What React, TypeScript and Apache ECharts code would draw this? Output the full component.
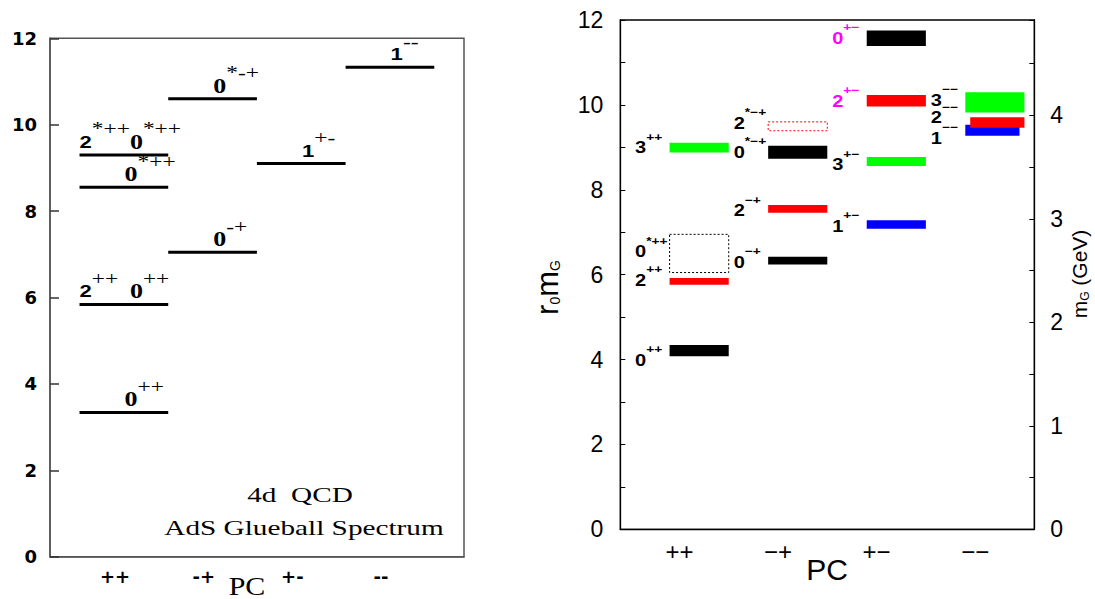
import React, { useEffect, useRef } from 'react';
import * as echarts from 'echarts';

// ---------- Left panel: AdS glueball spectrum (4d QCD) ----------
const leftCategories = ['++', '-+', '+-', '--'];
const leftPC = [1, 1, 1, 1, 2, 2, 3, 4];
const leftMass = [3.34, 5.84, 8.55, 9.3, 7.05, 10.6, 9.1, 11.33];
const leftStates = ['0|++', '2|++  0|++', '0|*++', '2|*++ 0|*++', '0|-+', '0|*-+', '1|+-', '1|--'];
const leftNotes = ['4d  QCD', 'AdS Glueball Spectrum'];
const leftXName = 'PC';

// ---------- Right panel: lattice glueball spectrum ----------
const rightCategories = ['++', '\u2212+', '+\u2212', '\u2212\u2212'];
const rightPC = [1, 1, 1, 1, 2, 2, 2, 2, 3, 3, 3, 3, 4, 4, 4];
const rightStates = [
  '0|++', '2|++', '0|*++', '3|++',
  '0|\u2212+', '2|\u2212+', '0|*\u2212+', '2|*\u2212+',
  '1|+\u2212', '3|+\u2212', '2|+\u2212', '0|+\u2212',
  '1|\u2212\u2212', '2|\u2212\u2212', '3|\u2212\u2212',
];
const rightLow = [4.08, 5.76, 6.05, 8.88, 6.24, 7.46, 8.73, 9.39, 7.08, 8.56, 9.96, 11.39, 9.27, 9.46, 9.82];
const rightHigh = [4.34, 5.92, 6.95, 9.11, 6.42, 7.64, 9.04, 9.6, 7.28, 8.77, 10.23, 11.75, 9.53, 9.71, 10.3];
const rightFrom = [-0.1, -0.1, -0.1, -0.1, -0.1, -0.1, -0.1, -0.1, -0.1, -0.1, -0.1, -0.1, -0.1, -0.05, -0.1];
const rightTo = [0.5, 0.5, 0.5, 0.5, 0.5, 0.5, 0.5, 0.5, 0.5, 0.5, 0.5, 0.5, 0.45, 0.5, 0.5];
const rightColor = ['#000000', '#ff0000', '#000000', '#00ff00', '#000000', '#ff0000', '#000000', '#ff0000',
  '#0000ff', '#00ff00', '#ff0000', '#000000', '#0000ff', '#ff0000', '#00ff00'];
const rightDotted = [false, false, true, false, false, false, false, true, false, false, false, false, false, false, false];
const rightLabelAt = [3.98, 5.86, 6.53, 8.98, 6.29, 7.5, 8.87, 9.56, 7.13, 8.58, 10.07, 11.56, 9.21, 9.69, 10.1];
const rightLabelColor = ['#000', '#000', '#000', '#000', '#000', '#000', '#000', '#000',
  '#000', '#000', '#ff00ff', '#ff00ff', '#000', '#000', '#000'];
const rightGeVMax = 4.92;
const rightYName = ['r', '0', 'm', 'G'];
const rightY2Name = ['m', 'G', ' (GeV)'];
const rightXName = 'PC';

const leftRich = {
  bs: { fontFamily: 'Liberation Sans', fontWeight: 'bold', fontSize: 17, lineHeight: 43, fill: '#000' },
  bz: { fontFamily: 'Liberation Serif', fontWeight: 'bold', fontSize: 20, lineHeight: 43, fill: '#000' },
  sp: { fontFamily: 'Liberation Serif', fontSize: 18, verticalAlign: 'top', fill: '#000' },
  gap: { fontSize: 17, width: 9 },
};

function buildOption() {
  const leftData = leftPC.map((pc, i) => [pc, leftMass[i]]);
  const rightData = rightPC.map((pc, i) => [pc + rightFrom[i], rightLow[i], pc + rightTo[i], rightHigh[i], pc, rightLabelAt[i]]);

  return {
    animation: false,
    backgroundColor: '#fff',
    grid: [
      { left: 50, top: 38.3, width: 414, height: 518.4, show: true, borderColor: '#555', borderWidth: 1.5 },
      { left: 620.3, top: 20, width: 414, height: 509.3, show: true, borderColor: '#000', borderWidth: 1.3 },
    ],
    xAxis: [
      {
        gridIndex: 0, type: 'value', min: 0.267, max: 4.935,
        axisLine: { show: true, lineStyle: { color: '#555', width: 1.5 } },
        axisTick: { show: false }, splitLine: { show: false },
        axisLabel: {
          customValues: [1, 2, 3, 4],
          formatter: (v: number) => leftCategories[Math.round(v) - 1] || '',
          fontFamily: 'DejaVu Sans', fontWeight: 'bold', fontSize: 18, color: '#000', margin: 11,
        },
      },
      {
        gridIndex: 1, type: 'value', min: 0.4, max: 4.6,
        axisLine: { show: true, lineStyle: { color: '#000', width: 1.3 } },
        axisTick: { show: false }, splitLine: { show: false },
        axisLabel: {
          customValues: [1, 2, 3, 4],
          formatter: (v: number) => rightCategories[Math.round(v) - 1] || '',
          fontFamily: 'Liberation Sans', fontSize: 24, color: '#000', margin: 10,
        },
      },
    ],
    yAxis: [
      {
        gridIndex: 0, type: 'value', min: 0, max: 12, interval: 2,
        axisLine: { show: true, lineStyle: { color: '#555', width: 1.5 } },
        axisTick: { show: true, inside: true, length: 9, lineStyle: { color: '#333', width: 1.5 } },
        splitLine: { show: false },
        axisLabel: { fontFamily: 'DejaVu Sans', fontWeight: 'bold', fontSize: 18, color: '#000', margin: 13 },
      },
      {
        gridIndex: 1, type: 'value', min: 0, max: 12, interval: 1,
        axisLine: { show: true, lineStyle: { color: '#000', width: 1.3 } },
        axisTick: { show: true, inside: true, length: 5, lineStyle: { color: '#000', width: 1 } },
        splitLine: { show: false },
        axisLabel: {
          formatter: (v: number) => (Math.round(v) % 2 === 0 ? String(Math.round(v)) : ''),
          fontFamily: 'Liberation Sans', fontSize: 23, color: '#000', margin: 17,
        },
      },
      {
        gridIndex: 1, type: 'value', position: 'right', min: 0, max: rightGeVMax, interval: 0.5,
        axisLine: { show: true, lineStyle: { color: '#000', width: 1.3 } },
        axisTick: { show: true, inside: true, length: 5, lineStyle: { color: '#000', width: 1 } },
        splitLine: { show: false },
        axisLabel: {
          formatter: (v: number) => (Math.abs(v - Math.round(v)) < 1e-6 ? String(Math.round(v)) : ''),
          fontFamily: 'Liberation Sans', fontSize: 23, color: '#000', margin: 16,
        },
      },
    ],
    series: [
      {
        type: 'custom', xAxisIndex: 0, yAxisIndex: 0, data: leftData, clip: false,
        renderItem: (params: any, api: any) => {
          const i = params.dataIndex;
          const pc = api.value(0);
          const m = api.value(1);
          const a = api.coord([pc - 0.4, m]);
          const b = api.coord([pc + 0.6, m]);
          const parts = leftStates[i].split(' ');
          const two = parts.length > 1;
          let txt = '';
          parts.forEach((p) => {
            if (p === '') { txt += '{gap| }'; return; }
            const [base, sup] = p.split('|');
            txt += `{${base === '0' ? 'bz' : 'bs'}|${base}}{sp|${sup}}`;
          });
          return {
            type: 'group',
            children: [
              { type: 'line', shape: { x1: a[0], y1: a[1], x2: b[0], y2: b[1] }, style: { stroke: '#000', lineWidth: 3 } },
              {
                type: 'text', x: a[0] + (two ? 0 : 45), y: a[1] - 13, scaleX: 1.3,
                style: { text: txt, align: 'left', verticalAlign: 'middle', rich: leftRich },
              },
            ],
          };
        },
      },
      {
        type: 'custom', xAxisIndex: 1, yAxisIndex: 1, data: rightData, clip: false,
        renderItem: (params: any, api: any) => {
          const i = params.dataIndex;
          const p0 = api.coord([api.value(0), api.value(3)]);
          const p1 = api.coord([api.value(2), api.value(1)]);
          const lp = api.coord([api.value(4) - 0.45, api.value(5)]);
          const dotted = rightDotted[i];
          const col = rightColor[i];
          const [base, sup] = rightStates[i].split('|');
          const lc = rightLabelColor[i];
          return {
            type: 'group',
            children: [
              {
                type: 'rect',
                shape: { x: p0[0], y: p0[1], width: p1[0] - p0[0], height: p1[1] - p0[1] },
                style: dotted
                  ? { fill: 'none', stroke: col, lineWidth: 1, lineDash: [2, 2] }
                  : { fill: col, stroke: null },
              },
              {
                type: 'text', x: lp[0], y: lp[1], scaleX: 1.25,
                style: {
                  text: `{d|${base}}{s|${sup}}`, align: 'left', verticalAlign: 'middle',
                  rich: {
                    d: { fontFamily: 'Liberation Sans', fontWeight: 'bold', fontSize: 16, lineHeight: 33, fill: lc },
                    s: { fontFamily: 'Liberation Sans', fontWeight: 'bold', fontSize: 11, verticalAlign: 'top', fill: lc },
                  },
                },
              },
            ],
          };
        },
      },
    ],
    graphic: [
      {
        type: 'text', x: 300, y: 494.5, scaleX: 1.33,
        style: { text: leftNotes[0], fontFamily: 'Liberation Serif', fontSize: 22, fill: '#000', align: 'center', verticalAlign: 'middle' },
      },
      {
        type: 'text', x: 304, y: 527.5, scaleX: 1.33,
        style: { text: leftNotes[1], fontFamily: 'Liberation Serif', fontSize: 22, fill: '#000', align: 'center', verticalAlign: 'middle' },
      },
      {
        type: 'text', x: 247, y: 586, scaleX: 1.2,
        style: { text: leftXName, fontFamily: 'Liberation Serif', fontSize: 25, fill: '#000', align: 'center', verticalAlign: 'middle' },
      },
      {
        type: 'text', x: 827, y: 569.5,
        style: { text: rightXName, fontFamily: 'Liberation Sans', fontSize: 30, fill: '#000', align: 'center', verticalAlign: 'middle' },
      },
      {
        type: 'text', x: 547, y: 287.5, rotation: Math.PI / 2,
        style: {
          text: `{m|${rightYName[0]}}{s|${rightYName[1]}}{m|${rightYName[2]}}{s|${rightYName[3]}}`,
          align: 'center', verticalAlign: 'middle',
          rich: {
            m: { fontFamily: 'Liberation Sans', fontSize: 31, lineHeight: 30, fill: '#000' },
            s: { fontFamily: 'Liberation Sans', fontSize: 14, verticalAlign: 'bottom', fill: '#000' },
          },
        },
      },
      {
        type: 'text', x: 1079.6, y: 274, rotation: Math.PI / 2,
        style: {
          text: `{m|${rightY2Name[0]}}{s|${rightY2Name[1]}}{m|${rightY2Name[2]}}`,
          align: 'center', verticalAlign: 'middle',
          rich: {
            m: { fontFamily: 'Liberation Sans', fontSize: 21, lineHeight: 22, fill: '#000' },
            s: { fontFamily: 'Liberation Sans', fontSize: 12, verticalAlign: 'bottom', fill: '#000' },
          },
        },
      },
    ],
  };
}

export default function App() {
  const ref = useRef<HTMLDivElement>(null);
  useEffect(() => {
    if (!ref.current) return;
    const chart = echarts.init(ref.current, null, { renderer: 'svg' });
    chart.setOption(buildOption() as any);
    return () => chart.dispose();
  }, []);
  return (
    <div
      ref={ref}
      style={{ position: 'fixed', left: 0, top: 0, width: 1095, height: 599, background: '#fff' }}
    />
  );
}
